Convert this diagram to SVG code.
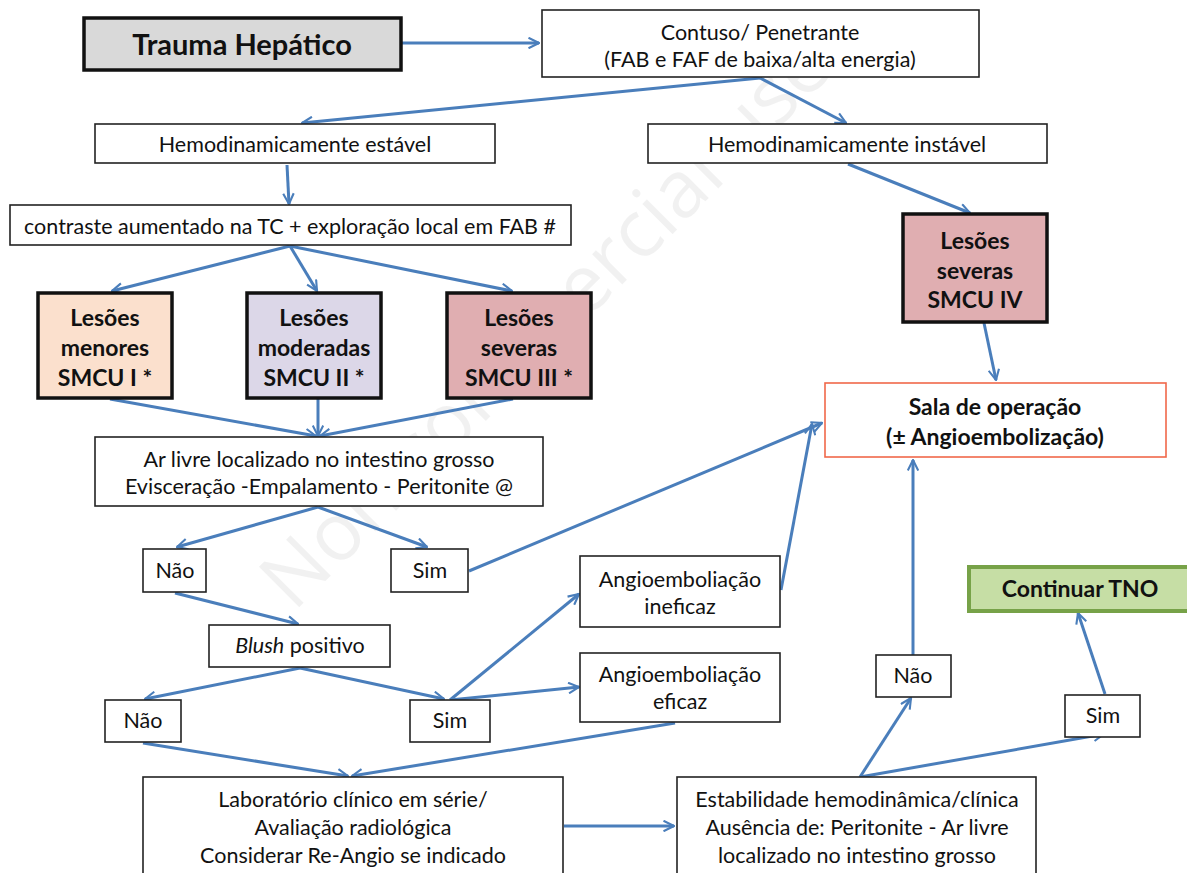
<svg xmlns="http://www.w3.org/2000/svg" width="1187" height="873" viewBox="0 0 1187 873">
<style>
  .bx{fill:#fff;stroke:#222;stroke-width:1.6}
  .thick{stroke:#111;stroke-width:3.5}
  .t{font-family:Lato,"Liberation Sans",sans-serif;font-size:21.5px;fill:#111;text-anchor:middle}
  .b{font-family:Lato,"Liberation Sans",sans-serif;font-size:23px;font-weight:bold;fill:#111;text-anchor:middle}
  .c line{stroke:#4a7ebb;stroke-width:3;fill:none;marker-end:url(#ah)}
  .wm{font-family:"Open Sans","Liberation Sans",sans-serif;font-size:80px;fill:#000;fill-opacity:0.055;text-anchor:middle}
</style>
<defs>
  <marker id="ah" viewBox="0 0 12 12" refX="11" refY="6" markerWidth="4.2" markerHeight="4.2" orient="auto" markerUnits="strokeWidth">
    <path d="M1,1 L11,6 L1,11" fill="none" stroke="#4a7ebb" stroke-width="2"/>
  </marker>
</defs>
<rect width="1187" height="873" fill="#fff"/>
<text class="wm" transform="translate(545,322) rotate(-45)" dy="0.35em">Non commercial use</text>

<g class="c" id="connectors">
  <line x1="402" y1="43" x2="539" y2="43"/>
  <line x1="760" y1="78" x2="302" y2="123"/>
  <line x1="760" y1="78" x2="846" y2="123"/>
  <line x1="287" y1="165" x2="289" y2="204"/>
  <line x1="290" y1="246" x2="112" y2="291"/>
  <line x1="290" y1="246" x2="317" y2="291"/>
  <line x1="290" y1="246" x2="512" y2="291"/>
  <line x1="848" y1="164" x2="970" y2="213"/>
  <line x1="110" y1="399" x2="316" y2="436"/>
  <line x1="318" y1="399" x2="318" y2="436"/>
  <line x1="513" y1="399" x2="320" y2="436"/>
  <line x1="984" y1="323" x2="996" y2="380"/>
  <line x1="318" y1="507" x2="177" y2="547"/>
  <line x1="318" y1="507" x2="427" y2="547"/>
  <line x1="469" y1="571" x2="822" y2="423"/>
  <line x1="175" y1="593" x2="298" y2="624"/>
  <line x1="300" y1="668" x2="145" y2="699"/>
  <line x1="300" y1="668" x2="444" y2="699"/>
  <line x1="450" y1="700" x2="579" y2="594"/>
  <line x1="450" y1="700" x2="579" y2="687"/>
  <line x1="781" y1="590" x2="812" y2="424"/>
  <line x1="675" y1="723" x2="352" y2="776"/>
  <line x1="143" y1="743" x2="348" y2="776"/>
  <line x1="564" y1="826" x2="674" y2="826"/>
  <line x1="860" y1="777" x2="911" y2="698"/>
  <line x1="860" y1="777" x2="1104" y2="734"/>
  <line x1="913" y1="655" x2="913" y2="460"/>
  <line x1="1105" y1="694" x2="1078" y2="613"/>
</g>

<g id="trauma"><rect x="84" y="18" width="317" height="52" fill="#d9d9d9" class="thick"/><text class="b" x="242" y="55" style="font-size:29px">Trauma Hepático</text></g>
<g id="contuso"><rect class="bx" x="542" y="10" width="437" height="67"/><text class="t" x="760" y="40">Contuso/ Penetrante</text><text class="t" x="760" y="67">(FAB e FAF de baixa/alta energia)</text></g>
<g id="estavel"><rect class="bx" x="95" y="124" width="400" height="39"/><text class="t" x="295" y="152">Hemodinamicamente estável</text></g>
<g id="instavel"><rect class="bx" x="648" y="124" width="399" height="39"/><text class="t" x="847" y="152">Hemodinamicamente instável</text></g>
<g id="contraste"><rect class="bx" x="10" y="205" width="561" height="40"/><text class="t" x="290" y="234">contraste aumentado na TC + exploração local em FAB #</text></g>
<g id="menores"><rect x="38" y="293" width="134" height="105" fill="#fbe0cd" class="thick"/><text class="b" x="105" y="326">Lesões</text><text class="b" x="105" y="356">menores</text><text class="b" x="105" y="386">SMCU I *</text></g>
<g id="moderadas"><rect x="247" y="293" width="134" height="105" fill="#dcd7e8" class="thick"/><text class="b" x="314" y="326">Lesões</text><text class="b" x="314" y="356">moderadas</text><text class="b" x="314" y="386">SMCU II *</text></g>
<g id="severas3"><rect x="447" y="293" width="144" height="105" fill="#e0aeb1" class="thick"/><text class="b" x="519" y="326">Lesões</text><text class="b" x="519" y="356">severas</text><text class="b" x="519" y="386">SMCU III *</text></g>
<g id="severas4"><rect x="903" y="214" width="144" height="108" fill="#e0aeb1" class="thick"/><text class="b" x="975" y="249">Lesões</text><text class="b" x="975" y="279">severas</text><text class="b" x="975" y="308">SMCU IV</text></g>
<g id="sala"><rect x="825" y="383" width="341" height="74" fill="#fff" stroke="#f0684a" stroke-width="1.6"/><text class="b" x="995" y="415">Sala de operação</text><text class="b" x="995" y="445">(± Angioembolização)</text></g>
<g id="arlivre"><rect class="bx" x="95" y="437" width="448" height="69"/><text class="t" x="319" y="467">Ar livre localizado no intestino grosso</text><text class="t" x="319" y="494">Evisceração -Empalamento -  Peritonite @</text></g>
<g id="nao1"><rect class="bx" x="143" y="549" width="63" height="43"/><text class="t" x="175" y="578">Não</text></g>
<g id="sim1"><rect class="bx" x="391" y="549" width="77" height="43"/><text class="t" x="430" y="578">Sim</text></g>
<g id="blush"><rect class="bx" x="209" y="625" width="181" height="42"/><text class="t" x="300" y="653"><tspan font-style="italic">Blush</tspan> positivo</text></g>
<g id="nao2"><rect class="bx" x="105" y="700" width="76" height="42"/><text class="t" x="143" y="728">Não</text></g>
<g id="sim2"><rect class="bx" x="410" y="700" width="80" height="42"/><text class="t" x="450" y="728">Sim</text></g>
<g id="ineficaz"><rect class="bx" x="580" y="556" width="200" height="71"/><text class="t" x="680" y="587">Angioemboliação</text><text class="t" x="680" y="614">ineficaz</text></g>
<g id="eficaz"><rect class="bx" x="580" y="653" width="200" height="69"/><text class="t" x="680" y="682">Angioemboliação</text><text class="t" x="680" y="709">eficaz</text></g>
<g id="laboratorio"><rect class="bx" x="143" y="777" width="420" height="110"/><text class="t" x="353" y="807">Laboratório clínico em série/</text><text class="t" x="353" y="835">Avaliação radiológica</text><text class="t" x="353" y="863">Considerar Re-Angio se indicado</text></g>
<g id="estabilidade"><rect class="bx" x="677" y="777" width="359" height="110"/><text class="t" x="857" y="807">Estabilidade hemodinâmica/clínica</text><text class="t" x="857" y="835">Ausência de: Peritonite - Ar livre</text><text class="t" x="857" y="863">localizado no intestino grosso</text></g>
<g id="nao3"><rect class="bx" x="876" y="655" width="75" height="42"/><text class="t" x="913" y="683">Não</text></g>
<g id="sim3"><rect class="bx" x="1065" y="695" width="75" height="42"/><text class="t" x="1103" y="723">Sim</text></g>
<g id="continuar"><rect x="969" y="567" width="225" height="44" fill="#c6dea5" stroke="#77a248" stroke-width="4"/><text class="b" x="1080" y="597">Continuar TNO</text></g>
</svg>
